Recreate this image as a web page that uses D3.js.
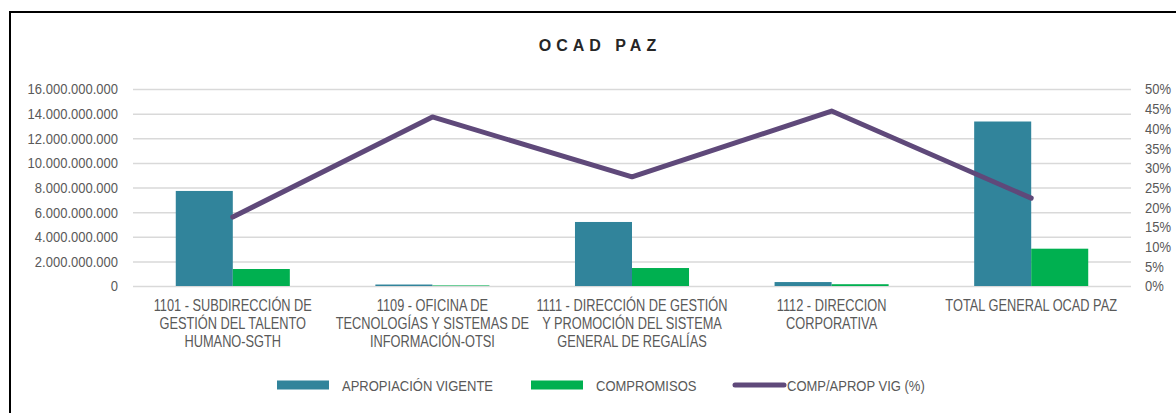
<!DOCTYPE html>
<html>
<head>
<meta charset="utf-8">
<script src="https://cdn.jsdelivr.net/npm/d3@7/dist/d3.min.js"></script>
<style>
  body { margin: 0; background: #fff; }
  svg { display: block; }
  text { font-family: "Liberation Sans Narrow", "Arial Narrow", "Liberation Sans", sans-serif; fill: #595959; }
</style>
</head>
<body>
<div id="chart"></div>
<script>
// categories and series
const categories = [
  ['1101 - SUBDIRECCIÓN DE', 'GESTIÓN DEL TALENTO', 'HUMANO-SGTH'],
  ['1109 - OFICINA DE', 'TECNOLOGÍAS Y SISTEMAS DE', 'INFORMACIÓN-OTSI'],
  ['1111 - DIRECCIÓN DE GESTIÓN', 'Y PROMOCIÓN DEL SISTEMA', 'GENERAL DE REGALÍAS'],
  ['1112 - DIRECCION', 'CORPORATIVA'],
  ['TOTAL GENERAL OCAD PAZ']
];
const apropiacion = [7720000000, 120000000, 5200000000, 320000000, 13360000000];
const compromisos = [1380000000, 45000000, 1460000000, 145000000, 3030000000];
const compAprop = [0.175, 0.429, 0.277, 0.444, 0.223];
const leftTicks = [0, 2e9, 4e9, 6e9, 8e9, 10e9, 12e9, 14e9, 16e9];
const rightTicks = [0, 0.05, 0.1, 0.15, 0.2, 0.25, 0.3, 0.35, 0.4, 0.45, 0.5];

const COLORS = { aprop: '#31849B', comp: '#00B050', line: '#5F497A', grid: '#d9d9d9', text: '#595959' };

const W = 1176, H = 413;
const margin = { left: 133, right: 45, top: 89, bottom: 127 };
const width = W - margin.left - margin.right;
const height = H - margin.top - margin.bottom;

// no narrow font installed: squeeze the text horizontally around its x anchor
function condense(sel, s) {
  sel.each(function() {
    const ax = +this.getAttribute('x') || 0;
    d3.select(this).attr('transform', `translate(${ax * (1 - s)},0) scale(${s},1)`);
  });
}

const svg = d3.select('#chart').append('svg').attr('width', W).attr('height', H);

// outer frame
svg.append('rect')
  .attr('x', 10).attr('y', 12).attr('width', W + 20).attr('height', H + 20)
  .attr('fill', 'none').attr('stroke', '#000').attr('stroke-width', 2);

svg.append('text')
  .attr('x', 600).attr('y', 51)
  .attr('text-anchor', 'middle')
  .attr('font-size', '16px').attr('font-weight', 'bold')
  .attr('letter-spacing', '5px')
  .style('fill', '#262626')
  .text('OCAD PAZ');

const g = svg.append('g').attr('transform', `translate(${margin.left},${margin.top})`);

const idx = categories.map((d, i) => i);
const x0 = d3.scaleBand().domain(idx).range([0, width]).padding(0);
const x1 = d3.scaleBand().domain(['aprop', 'comp']).range([0, x0.bandwidth()]).paddingInner(0).paddingOuter(0.75);
const y = d3.scaleLinear().domain([0, 16e9]).range([height, 0]);
const y2 = d3.scaleLinear().domain([0, 0.5]).range([height, 0]);

const fmt = v => d3.format(',')(v).replace(/,/g, '.');

// gridlines
g.append('g')
  .call(d3.axisLeft(y).tickValues(leftTicks).tickSize(-width).tickFormat(''))
  .call(a => a.select('.domain').remove())
  .selectAll('line').attr('stroke', COLORS.grid).attr('stroke-width', 1.5);

// left axis labels
g.append('g')
  .call(d3.axisLeft(y).tickValues(leftTicks).tickSize(0).tickPadding(15).tickFormat(fmt))
  .call(a => a.select('.domain').remove())
  .selectAll('text').attr('font-size', '15.5px').style('fill', COLORS.text).style('font-family', null)
  .call(condense, 0.84);

// right axis labels
g.append('g')
  .attr('transform', `translate(${width},0)`)
  .call(d3.axisRight(y2).tickValues(rightTicks).tickSize(0).tickPadding(14).tickFormat(d3.format('.0%')))
  .call(a => a.select('.domain').remove())
  .selectAll('text').attr('font-size', '15.5px').style('fill', COLORS.text).style('font-family', null)
  .call(condense, 0.84);

// bars
const rows = idx.map(i => ({ i, aprop: apropiacion[i], comp: compromisos[i] }));
const groups = g.selectAll('.grp').data(rows).enter().append('g')
  .attr('transform', d => `translate(${x0(d.i)},0)`);

groups.selectAll('rect')
  .data(d => ['aprop', 'comp'].map(k => ({ k, v: d[k] })))
  .enter().append('rect')
  .attr('x', d => x1(d.k))
  .attr('width', x1.bandwidth())
  .attr('y', d => y(d.v))
  .attr('height', d => height - y(d.v))
  .attr('fill', d => COLORS[d.k]);

// line
const line = d3.line()
  .x((d, i) => x0(i) + x0.bandwidth() / 2)
  .y(d => y2(d));
g.append('path')
  .datum(compAprop)
  .attr('d', line)
  .attr('fill', 'none')
  .attr('stroke', COLORS.line)
  .attr('stroke-width', 5)
  .attr('stroke-linecap', 'round')
  .attr('stroke-linejoin', 'round');

// category labels
const cat = g.append('g').attr('transform', `translate(0,${height})`);
categories.forEach((lines, i) => {
  const cx = x0(i) + x0.bandwidth() / 2;
  const t = cat.append('text')
    .attr('x', cx)
    .attr('y', 25)
    .attr('text-anchor', 'middle')
    .attr('font-size', '16px');
  lines.forEach((l, j) => {
    t.append('tspan').attr('x', cx).attr('dy', j === 0 ? 0 : 18).text(l);
  });
  condense(t, 0.8);
});

// legend
const legend = svg.append('g').attr('transform', 'translate(0,385)');
const items = [
  { label: 'APROPIACIÓN VIGENTE', color: COLORS.aprop, type: 'rect', x: 277 },
  { label: 'COMPROMISOS', color: COLORS.comp, type: 'rect', x: 531 },
  { label: 'COMP/APROP VIG (%)', color: COLORS.line, type: 'line', x: 732 }
];
items.forEach(it => {
  if (it.type === 'rect') {
    legend.append('rect').attr('x', it.x).attr('y', -4.5).attr('width', 52).attr('height', 9).attr('fill', it.color);
    legend.append('text').attr('x', it.x + 65).attr('y', 5.5).attr('font-size', '15.5px').text(it.label).call(condense, 0.84);
  } else {
    legend.append('line').attr('x1', it.x + 3).attr('x2', it.x + 52).attr('y1', 0).attr('y2', 0)
      .attr('stroke', it.color).attr('stroke-width', 5).attr('stroke-linecap', 'round');
    legend.append('text').attr('x', it.x + 55).attr('y', 5.5).attr('font-size', '15.5px').text(it.label).call(condense, 0.84);
  }
});
</script>
</body>
</html>
